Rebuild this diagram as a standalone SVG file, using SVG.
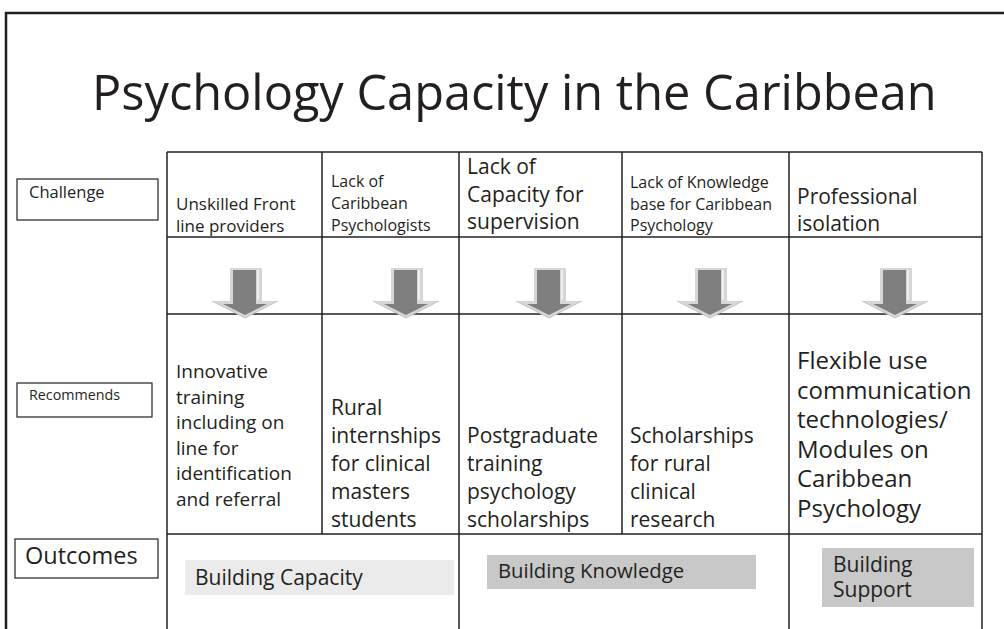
<svg xmlns="http://www.w3.org/2000/svg" width="1004" height="629" viewBox="0 0 1004 629">
<defs>
<style>
text{font-family:"Open Sans","Noto Sans","Liberation Sans",sans-serif;fill:#231f20}
.grid{stroke:#231f20;stroke-width:1.5;fill:none}
.frame{stroke:#231f20;stroke-width:2.5;fill:none}
.lbl{fill:#fff;stroke:#231f20;stroke-width:1.2}
.t17{font-size:17px}.t16{font-size:16px}.t21{font-size:21px}.t19{font-size:19px}.t24{font-size:24px}
</style>
<g id="arrow">
<polygon points="-15,268 17,268 17,301 33,301 0,318 -33,301 -15,301" fill="#d6d6d6"/>
<polygon points="-12,270 11,270 11,304 22,304 0,315 -22,304 -12,304" fill="#7f7f7f"/>
<line x1="13" y1="270" x2="13" y2="300" stroke="#ffffff" stroke-width="1.2"/>
<polyline points="-33,301 0,318 33,301" fill="none" stroke="#c4c4c4" stroke-width="1"/>
</g>
</defs>
<rect width="1004" height="629" fill="#ffffff"/>
<polyline class="frame" points="6,629 6,13 1004,13"/>
<g id="title"><text x="92" y="110" style="font-size:48.7px">Psychology Capacity in the Caribbean</text></g>
<g id="table-grid" class="grid">
<line x1="167" y1="152" x2="982" y2="152"/>
<line x1="167" y1="237" x2="982" y2="237"/>
<line x1="167" y1="314" x2="982" y2="314"/>
<line x1="167" y1="534" x2="982" y2="534"/>
<line x1="167" y1="152" x2="167" y2="629"/>
<line x1="322" y1="152" x2="322" y2="534"/>
<line x1="459" y1="152" x2="459" y2="629"/>
<line x1="622" y1="152" x2="622" y2="534"/>
<line x1="789" y1="152" x2="789" y2="629"/>
<line x1="982" y1="152" x2="982" y2="629"/>
</g>
<g id="label-challenge"><rect class="lbl" x="17" y="179" width="141" height="41"/><text x="29" y="198" style="font-size:16.5px">Challenge</text></g>
<g id="label-recommends"><rect class="lbl" x="17" y="383" width="135" height="34"/><text x="29" y="400" style="font-size:14.3px">Recommends</text></g>
<g id="label-outcomes"><rect class="lbl" x="15" y="539" width="143" height="39"/><text x="25" y="564" style="font-size:23.5px">Outcomes</text></g>
<g id="challenge-1"><text class="t17" x="176" y="210">Unskilled Front</text><text class="t17" x="176" y="232">line providers</text></g>
<g id="challenge-2"><text class="t16" x="331" y="187">Lack of</text><text class="t16" x="331" y="209">Caribbean</text><text class="t16" x="331" y="231">Psychologists</text></g>
<g id="challenge-3"><text class="t21" x="467" y="174">Lack of</text><text class="t21" x="467" y="202">Capacity for</text><text class="t21" x="467" y="229">supervision</text></g>
<g id="challenge-4"><text class="t16" x="630" y="188">Lack of Knowledge</text><text class="t16" x="630" y="210">base for Caribbean</text><text class="t16" x="630" y="231">Psychology</text></g>
<g id="challenge-5"><text class="t21" x="797" y="204">Professional</text><text class="t21" x="797" y="231">isolation</text></g>
<g id="connectors">
<use href="#arrow" transform="translate(245,0)"/>
<use href="#arrow" transform="translate(406,0)"/>
<use href="#arrow" transform="translate(549,0)"/>
<use href="#arrow" transform="translate(710,0)"/>
<use href="#arrow" transform="translate(895,0)"/>
</g>
<g id="recommend-1"><text class="t19" x="176" y="378">Innovative</text><text class="t19" x="176" y="404">training</text><text class="t19" x="176" y="429">including on</text><text class="t19" x="176" y="455">line for</text><text class="t19" x="176" y="480">identification</text><text class="t19" x="176" y="506">and referral</text></g>
<g id="recommend-2"><text class="t21" x="331" y="415">Rural</text><text class="t21" x="331" y="443">internships</text><text class="t21" x="331" y="471">for clinical</text><text class="t21" x="331" y="499">masters</text><text class="t21" x="331" y="527">students</text></g>
<g id="recommend-3"><text class="t21" x="467" y="443">Postgraduate</text><text class="t21" x="467" y="471">training</text><text class="t21" x="467" y="499">psychology</text><text class="t21" x="467" y="527">scholarships</text></g>
<g id="recommend-4"><text class="t21" x="630" y="443">Scholarships</text><text class="t21" x="630" y="471">for rural</text><text class="t21" x="630" y="499">clinical</text><text class="t21" x="630" y="527">research</text></g>
<g id="recommend-5"><text class="t24" x="797" y="369">Flexible use</text><text class="t24" x="797" y="399">communication</text><text class="t24" x="797" y="428">technologies/</text><text class="t24" x="797" y="458">Modules on</text><text class="t24" x="797" y="487">Caribbean</text><text class="t24" x="797" y="517">Psychology</text></g>
<g id="outcome-capacity"><rect x="185" y="560" width="269" height="35" fill="#ebebeb"/><text class="t21" x="195" y="585">Building Capacity</text></g>
<g id="outcome-knowledge"><rect x="487" y="555" width="269" height="34" fill="#c8c8c8"/><text x="498" y="578" style="font-size:20.3px">Building Knowledge</text></g>
<g id="outcome-support"><rect x="822" y="548" width="152" height="59" fill="#c8c8c8"/><text class="t21" x="833" y="572">Building</text><text class="t21" x="833" y="597">Support</text></g>
</svg>
